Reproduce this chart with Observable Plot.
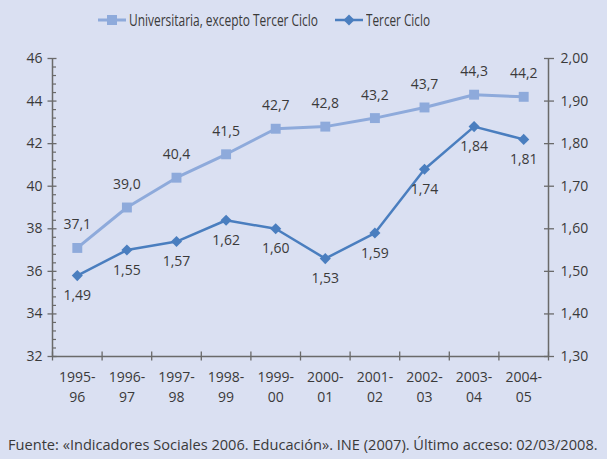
<!DOCTYPE html>
<html>
<head>
<meta charset="utf-8">
<script src="https://cdn.jsdelivr.net/npm/d3@7"></script>
<script src="https://cdn.jsdelivr.net/npm/@observablehq/plot@0.6"></script>
<style>
  html, body { margin: 0; padding: 0; background: #dae0f2; }
  body { width: 607px; height: 459px; position: relative; overflow: hidden; font-family: "Open Sans", sans-serif; color: #3a3a3a; }
  #legend { position: relative; height: 40px; }
  .item { position: absolute; top: 10px; display: flex; align-items: center; height: 20px; font-family: "Open Sans", sans-serif; font-size: 16px; color: #3a3a3a; white-space: nowrap; }
  .item svg { margin-right: 3px; flex: none; }
  .item span { display: inline-block; transform-origin: 0 50%; }
  #chart { height: 390px; }
  #caption { height: 29px; line-height: 29px; padding-left: 8px; font-size: 14.6px; color: #3a3a3a; white-space: nowrap; }
</style>
</head>
<body>
<div id="legend"></div>
<div id="chart"></div>
<div id="caption"></div>
<script>
// ---- data ----
const categories = ["1995-96", "1996-97", "1997-98", "1998-99", "1999-00", "2000-01", "2001-02", "2002-03", "2003-04", "2004-05"];
const universitaria = [37.1, 39.0, 40.4, 41.5, 42.7, 42.8, 43.2, 43.7, 44.3, 44.2];
const tercerCiclo = [1.49, 1.55, 1.57, 1.62, 1.60, 1.53, 1.59, 1.74, 1.84, 1.81];
const seriesNames = ["Universitaria, excepto Tercer Ciclo", "Tercer Ciclo"];
const leftTicks = [32, 34, 36, 38, 40, 42, 44, 46];
const rightTicks = [1.30, 1.40, 1.50, 1.60, 1.70, 1.80, 1.90, 2.00];
const captionText = "Fuente: «Indicadores Sociales 2006. Educación». INE (2007). Último acceso: 02/03/2008.";

// ---- styling ----
const cLight = "#8eaadb";
const cDark = "#4a7ebf";
const axisColor = "#6a6a6a";
const textColor = "#3a3a3a";

// right axis domain mapped onto the left one
const leftDomain = [leftTicks[0], leftTicks[leftTicks.length - 1]];
const rightDomain = [rightTicks[0], rightTicks[rightTicks.length - 1]];
const toLeft = v => leftDomain[0] + (v - rightDomain[0]) / (rightDomain[1] - rightDomain[0]) * (leftDomain[1] - leftDomain[0]);
const fromLeft = v => rightDomain[0] + (v - leftDomain[0]) / (leftDomain[1] - leftDomain[0]) * (rightDomain[1] - rightDomain[0]);
const comma = (v, n) => v.toFixed(n).replace(".", ",");

const minorTicks = d3.range(leftDomain[0], leftDomain[1] + 0.001, 0.4).filter(v => Math.abs(v / 2 - Math.round(v / 2)) > 0.01);

const rowsU = categories.map((c, i) => ({x: i + 0.5, y: universitaria[i], label: comma(universitaria[i], 1)}));
const rowsT = categories.map((c, i) => ({x: i + 0.5, y: toLeft(tercerCiclo[i]), label: comma(tercerCiclo[i], 2)}));
const xDomain = [0, categories.length];

const chart = Plot.plot({
  width: 607,
  height: 390,
  marginTop: 18,
  marginLeft: 52,
  marginRight: 59,
  marginBottom: 74,
  style: {background: "transparent", fontFamily: "'Open Sans', sans-serif", fontSize: "14px", color: textColor, overflow: "visible"},
  x: {domain: xDomain},
  y: {domain: leftDomain},
  marks: [
    // axis lines
    Plot.ruleX(xDomain, {stroke: axisColor, strokeWidth: 1.5}),
    Plot.ruleY([leftDomain[0]], {stroke: axisColor, strokeWidth: 1.5}),
    // left axis
    Plot.axisY({anchor: "left", ticks: leftTicks, tickSize: 9, dx: 4.5, fill: "none", stroke: axisColor, strokeWidth: 1.3, label: null}),
    Plot.axisY({anchor: "left", ticks: minorTicks, tickSize: 4, dx: 4, fill: "none", stroke: axisColor, strokeWidth: 1.2, label: null}),
    Plot.axisY({anchor: "left", ticks: leftTicks, tickSize: 0, tickPadding: 10, tickFormat: d => String(d), fill: textColor, label: null, fontSize: 14}),
    // right axis
    Plot.axisY({anchor: "right", ticks: rightTicks.map(toLeft), tickSize: 10, dx: -5, fill: "none", stroke: axisColor, strokeWidth: 1.3, label: null}),
    Plot.axisY({anchor: "right", ticks: rightTicks.map(toLeft), tickSize: 0, tickPadding: 12, tickFormat: d => comma(fromLeft(d), 2), fill: textColor, label: null, fontSize: 14}),
    // x axis
    Plot.axisX({anchor: "bottom", ticks: d3.range(xDomain[0], xDomain[1] + 1), tickSize: 9, dy: -4.5, fill: "none", stroke: axisColor, strokeWidth: 1.3, label: null}),
    Plot.axisX({anchor: "bottom", ticks: categories.map((c, i) => i + 0.5), tickSize: 0, tickPadding: 11, lineHeight: 1.43,
      tickFormat: d => categories[Math.floor(d)].replace("-", "-\n"), fill: textColor, label: null, fontSize: 14}),
    // series
    Plot.line(rowsU, {x: "x", y: "y", stroke: cLight, strokeWidth: 3}),
    Plot.dot(rowsU, {x: "x", y: "y", symbol: "square", r: 5.6, fill: cLight, stroke: "none"}),
    Plot.line(rowsT, {x: "x", y: "y", stroke: cDark, strokeWidth: 2.5}),
    Plot.dot(rowsT, {x: "x", y: "y", symbol: "diamond2", r: 5, fill: cDark, stroke: "none"}),
    // value labels
    Plot.text(rowsU, {x: "x", y: "y", text: "label", dy: -23, fill: textColor, fontSize: 14}),
    Plot.text(rowsT, {x: "x", y: "y", text: "label", dy: 20, fill: textColor, fontSize: 14})
  ]
});
document.getElementById("chart").appendChild(chart);

// legend
const legend = document.getElementById("legend");
const items = [
  {name: seriesNames[0], color: cLight, shape: "square", left: 98, textWidth: 189},
  {name: seriesNames[1], color: cDark, shape: "diamond", left: 335, textWidth: 64}
];
for (const it of items) {
  const div = document.createElement("div");
  div.className = "item";
  div.style.left = it.left + "px";
  const marker = it.shape === "square"
    ? `<rect x="9" y="5" width="10" height="10" fill="${it.color}"/>`
    : `<path d="M14,4.5 L19.5,10 L14,15.5 L8.5,10 Z" fill="${it.color}"/>`;
  div.innerHTML = `<svg width="28" height="20"><line x1="0" y1="10" x2="28" y2="10" stroke="${it.color}" stroke-width="${it.shape === "square" ? 3 : 2.5}"/>${marker}</svg><span>${it.name}</span>`;
  legend.appendChild(div);
  const span = div.querySelector("span");
  const w = span.getBoundingClientRect().width;
  span.style.transform = `scaleX(${it.textWidth / w})`;
}
document.getElementById("caption").textContent = captionText;
</script>
</body>
</html>
